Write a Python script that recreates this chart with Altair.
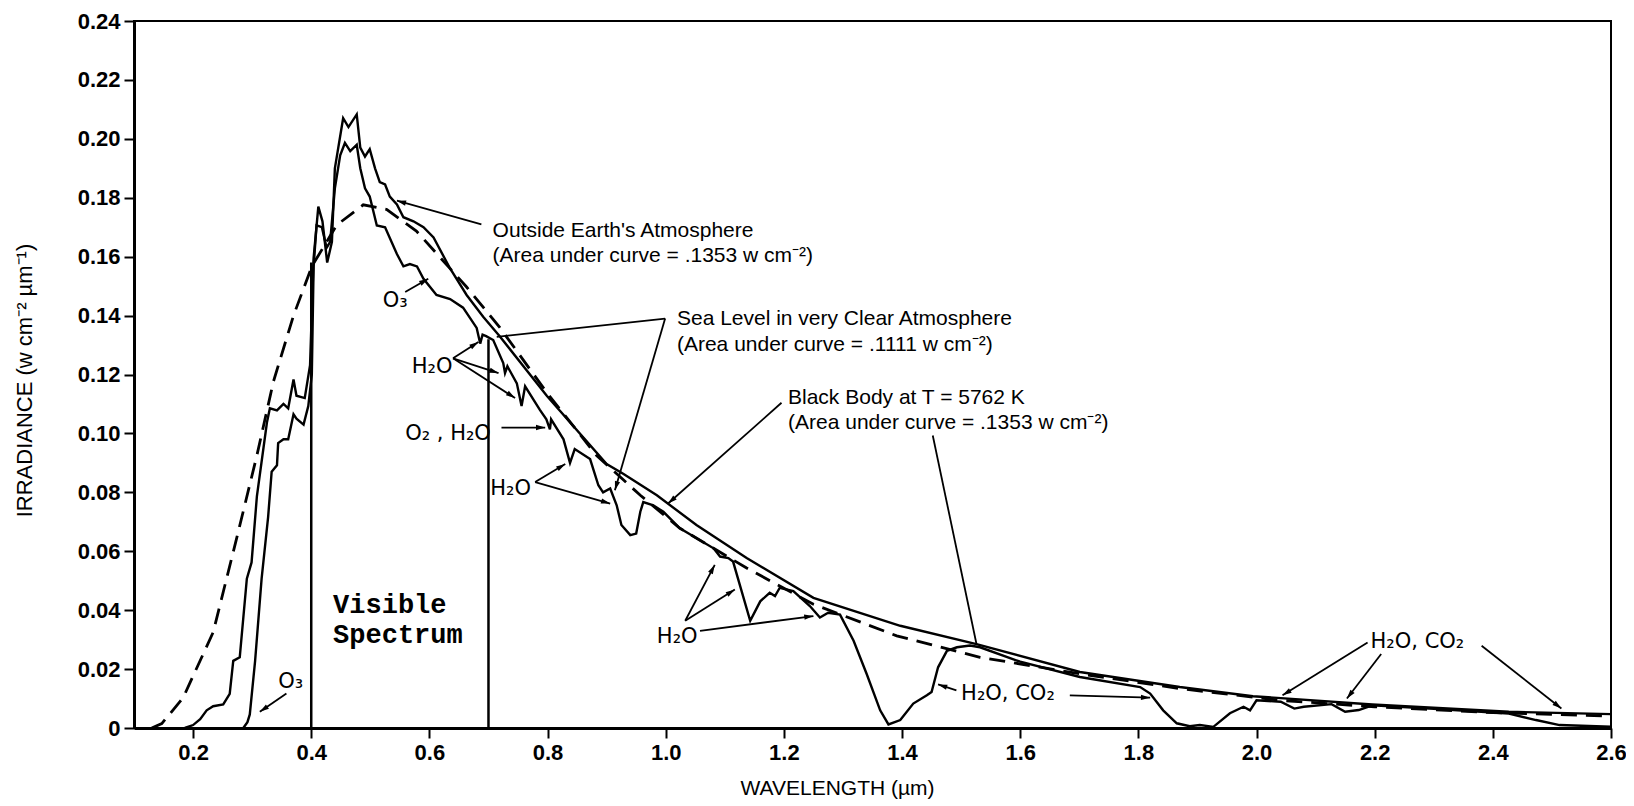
import math
import altair as alt
import pandas as pd

# ---------------- data ----------------
# Outside Earth's atmosphere (solid, upper)
OUT_X = [0.186, 0.200, 0.212, 0.223, 0.234, 0.251, 0.262, 0.268, 0.279, 0.291, 0.299, 0.308,
         0.325, 0.330, 0.342, 0.353, 0.361, 0.370, 0.375, 0.389, 0.398, 0.404, 0.412, 0.419,
         0.427, 0.435, 0.440, 0.454, 0.463, 0.477, 0.483, 0.491, 0.499, 0.508, 0.516, 0.525,
         0.533, 0.545, 0.556, 0.573, 0.590, 0.607, 0.635, 0.663, 0.691, 0.719, 0.799, 0.900,
         0.928, 0.985, 1.052, 1.137, 1.250, 1.397, 1.526, 1.701, 1.870, 1.994, 2.196, 2.427, 2.6]
OUT_Y = [0, 0.001, 0.003, 0.006, 0.0074, 0.008, 0.0116, 0.0228, 0.024, 0.0507, 0.0562, 0.0786,
         0.1037, 0.1085, 0.1078, 0.110, 0.1085, 0.1183, 0.1128, 0.112, 0.1232, 0.1595, 0.177, 0.172,
         0.158, 0.165, 0.190, 0.207, 0.204, 0.2083, 0.197, 0.194, 0.1965, 0.190, 0.1853, 0.1845,
         0.1804, 0.1777, 0.1734, 0.172, 0.170, 0.1665, 0.156, 0.147, 0.1396, 0.133, 0.1127, 0.0896,
         0.0863, 0.079, 0.0689, 0.0577, 0.0442, 0.0347, 0.0285, 0.019, 0.0139, 0.0108, 0.0080, 0.0055, 0.0047]

# Sea level in very clear atmosphere (solid, lower, with absorption bands)
SEA_X = [0.285, 0.292, 0.296, 0.305, 0.316, 0.327, 0.333, 0.342, 0.344, 0.353, 0.361, 0.370,
         0.375, 0.387, 0.395, 0.401, 0.404, 0.409, 0.418, 0.426, 0.432, 0.440, 0.449, 0.457,
         0.466, 0.477, 0.483, 0.491, 0.499, 0.511, 0.525, 0.536, 0.545, 0.556, 0.567, 0.579,
         0.590, 0.612, 0.635, 0.657, 0.680, 0.686, 0.690, 0.696, 0.708, 0.725, 0.728, 0.732,
         0.748, 0.756, 0.762, 0.787, 0.798, 0.804, 0.806, 0.827, 0.838, 0.846, 0.872, 0.886,
         0.894, 0.906, 0.917, 0.925, 0.940, 0.950, 0.957, 0.962, 0.979, 0.996, 1.024, 1.081,
         1.092, 1.106, 1.114, 1.143, 1.160, 1.176, 1.185, 1.193, 1.216, 1.244, 1.261, 1.275,
         1.295, 1.318, 1.340, 1.363, 1.377, 1.397, 1.419, 1.442, 1.450, 1.461, 1.476, 1.493,
         1.515, 1.532, 1.600, 1.701, 1.803, 1.820, 1.842, 1.865, 1.887, 1.904, 1.927, 1.955,
         1.978, 1.989, 2.000, 2.041, 2.064, 2.080, 2.127, 2.150, 2.173, 2.196, 2.300, 2.427,
         2.473, 2.513, 2.6]
SEA_Y = [0, 0.002, 0.0046, 0.0228, 0.0507, 0.0716, 0.087, 0.0892, 0.0967, 0.098, 0.098, 0.1065,
         0.105, 0.103, 0.1093, 0.120, 0.1567, 0.1706, 0.170, 0.163, 0.165, 0.1832, 0.1944, 0.1986,
         0.1958, 0.198, 0.190, 0.1832, 0.1804, 0.1706, 0.170, 0.165, 0.1609, 0.1567, 0.1575, 0.1567,
         0.1525, 0.147, 0.1456, 0.1427, 0.1358, 0.1305, 0.1335, 0.1330, 0.1317, 0.1239, 0.1205, 0.1228,
         0.117, 0.1093, 0.116, 0.108, 0.1048, 0.1014, 0.1048, 0.098, 0.090, 0.0947, 0.0913, 0.0824,
         0.080, 0.0813, 0.0756, 0.0689, 0.0655, 0.066, 0.0734, 0.0767, 0.0756, 0.0734, 0.0678, 0.061,
         0.0582, 0.0577, 0.0565, 0.0364, 0.043, 0.0459, 0.0448, 0.0476, 0.0465, 0.0414, 0.0375, 0.0391,
         0.0385, 0.0296, 0.0184, 0.006, 0.0012, 0.0027, 0.0083, 0.0111, 0.0122, 0.0206, 0.0262, 0.0274,
         0.028, 0.0274, 0.0225, 0.0173, 0.0139, 0.0117, 0.006, 0.0016, 0.0006, 0.001, 0.0004, 0.005,
         0.0072, 0.006, 0.0094, 0.0089, 0.0066, 0.0072, 0.0081, 0.0055, 0.0061, 0.0077, 0.0065, 0.0049,
         0.0027, 0.001, 0.0004]

# Black body at T = 5762 K (dashed)
BB_X = [0.130, 0.147, 0.183, 0.234, 0.274, 0.308, 0.336, 0.370, 0.401, 0.443, 0.488, 0.528,
        0.578, 0.663, 0.719, 0.799, 0.883, 0.957, 1.024, 1.137, 1.250, 1.391, 1.532, 1.701,
        1.870, 2.040, 2.2, 2.4, 2.6]
BB_Y = [0, 0.0015, 0.0102, 0.0325, 0.0646, 0.0925, 0.1176, 0.140, 0.1567, 0.1707, 0.1776, 0.176,
        0.1687, 0.1497, 0.136, 0.1138, 0.0925, 0.079, 0.0678, 0.0543, 0.042, 0.0313, 0.024, 0.0184,
        0.0134, 0.0094, 0.0072, 0.0052, 0.0040]

# Visible spectrum boundaries
VIS_X = [0.4, 0.7]
VIS_TOP = [0.158, 0.132]

# Axis ticks
X_TICKS = [0.2, 0.4, 0.6, 0.8, 1.0, 1.2, 1.4, 1.6, 1.8, 2.0, 2.2, 2.4, 2.6]
Y_TICKS = [0, 0.02, 0.04, 0.06, 0.08, 0.10, 0.12, 0.14, 0.16, 0.18, 0.20, 0.22, 0.24]

# Curve captions
MAIN_TEXT = ["Outside Earth's Atmosphere", "(Area under curve = .1353 w cm\u207b\u00b2)",
             "Sea Level in very Clear Atmosphere", "(Area under curve = .1111 w cm\u207b\u00b2)",
             "Black Body at T = 5762 K", "(Area under curve = .1353 w cm\u207b\u00b2)"]
MAIN_X = [0.707, 0.707, 1.019, 1.019, 1.207, 1.207]
MAIN_Y = [0.1687, 0.1603, 0.1387, 0.130, 0.1121, 0.1037]

# Absorber labels
CHEM_TEXT = ["O\u2083", "H\u2082O", "O\u2082 , H\u2082O", "H\u2082O", "H\u2082O",
             "H\u2082O, CO\u2082", "H\u2082O, CO\u2082", "O\u2083"]
CHEM_X = [0.521, 0.570, 0.559, 0.703, 0.985, 1.500, 2.193, 0.344]
CHEM_Y = [0.143, 0.1205, 0.0976, 0.0791, 0.0289, 0.0094, 0.0273, 0.0135]

VIS_TEXT = ["Visible", "Spectrum"]
VIS_TX = [0.437, 0.437]
VIS_TY = [0.039, 0.029]

# Leader lines (tail -> tip) and whether they carry an arrowhead
LEAD_X1 = [0.688, 0.999, 0.999, 1.196, 1.452, 0.559, 0.640, 0.640, 0.640, 0.722, 0.779,
           0.779, 1.033, 1.033, 1.058, 1.492, 1.684, 2.188, 2.211, 2.381, 0.358]
LEAD_Y1 = [0.171, 0.139, 0.139, 0.1104, 0.0993, 0.148, 0.1255, 0.1255, 0.1255, 0.102, 0.0835,
           0.0835, 0.0364, 0.0364, 0.033, 0.0128, 0.0111, 0.029, 0.0251, 0.0279, 0.0117]
LEAD_X2 = [0.545, 0.714, 0.914, 1.004, 1.526, 0.598, 0.683, 0.717, 0.745, 0.796, 0.830,
           0.906, 1.083, 1.117, 1.250, 1.461, 1.820, 2.044, 2.153, 2.516, 0.313]
LEAD_Y2 = [0.179, 0.1328, 0.0807, 0.0762, 0.0285, 0.1525, 0.131, 0.1205, 0.112, 0.102, 0.0896,
           0.0762, 0.0554, 0.047, 0.038, 0.0148, 0.0103, 0.0111, 0.010, 0.0066, 0.0055]
LEAD_HEAD = [1, 0, 1, 1, 0, 1, 1, 1, 1, 1, 1, 1, 1, 1, 1, 1, 1, 1, 1, 1, 1]

# ---------------- layout ----------------
W, H = 1477, 707
XMIN, XMAX, YMIN, YMAX = 0.1, 2.6, 0.0, 0.24
PXU = W / (XMAX - XMIN)
PYU = H / (YMAX - YMIN)
FONT = "Liberation Sans"


def curve_df(xs, ys, name):
    assert len(xs) == len(ys), name
    return pd.DataFrame({"x": xs, "y": ys, "i": list(range(len(xs))), "s": name})


out_df = curve_df(OUT_X, OUT_Y, "outside")
sea_df = curve_df(SEA_X, SEA_Y, "sea")
bb_df = curve_df(BB_X, BB_Y, "bb")
vis_df = pd.DataFrame({"x": VIS_X, "y": [0.0] * len(VIS_X), "y1": VIS_TOP})
main_df = pd.DataFrame({"t": MAIN_TEXT, "x": MAIN_X, "y": MAIN_Y})
chem_df = pd.DataFrame({"t": CHEM_TEXT, "x": CHEM_X, "y": CHEM_Y})
vt_df = pd.DataFrame({"t": VIS_TEXT, "x": VIS_TX, "y": VIS_TY})
lead_df = pd.DataFrame({"x": LEAD_X1, "y": LEAD_Y1, "x2": LEAD_X2, "y2": LEAD_Y2, "h": LEAD_HEAD})
angs = []
for a, b, c, d in zip(LEAD_X1, LEAD_Y1, LEAD_X2, LEAD_Y2):
    dx = (c - a) * PXU
    dy = -(d - b) * PYU
    angs.append(math.degrees(math.atan2(dx, -dy)) % 360)
lead_df["ang"] = angs
head_df = pd.DataFrame({"x": lead_df["x2"], "y": lead_df["y2"], "ang": lead_df["ang"],
                        "h": lead_df["h"]})
head_df = head_df[head_df["h"] == 1]

xs = alt.Scale(domain=[XMIN, XMAX], nice=False, zero=False)
ys = alt.Scale(domain=[YMIN, YMAX], nice=False, zero=False)

x_axis = alt.Axis(values=X_TICKS, format=".1f", labelFlush=False, labelOverlap=False,
                  title="WAVELENGTH (\u00b5m)", titleX=703, titleY=60, titleAngle=0,
                  titleAlign="center", titleBaseline="middle", titleFontSize=21)
y_axis = alt.Axis(values=Y_TICKS, labelOverlap=False,
                  labelExpr="datum.value == 0 ? '0' : format(datum.value, '.2f')",
                  title="IRRADIANCE (w cm\u207b\u00b2 \u00b5m\u207b\u00b9)", titleX=-110, titleY=359,
                  titleAngle=270, titleAlign="center", titleBaseline="middle", titleFontSize=22)

X = alt.X("x:Q", scale=xs, axis=x_axis)
Y = alt.Y("y:Q", scale=ys, axis=y_axis)

outside = alt.Chart(out_df).mark_line(color="black", strokeWidth=2.4).encode(x=X, y=Y, order="i:Q")
sea = alt.Chart(sea_df).mark_line(color="black", strokeWidth=2.4).encode(x=X, y=Y, order="i:Q")
bb = alt.Chart(bb_df).mark_line(color="black", strokeWidth=2.8, strokeDash=[16, 9]).encode(
    x=X, y=Y, order="i:Q")
vis = alt.Chart(vis_df).mark_rule(color="black", strokeWidth=2.5).encode(x=X, y=Y, y2="y1:Q")
leads = alt.Chart(lead_df).mark_rule(color="black", strokeWidth=1.8).encode(
    x=X, y=Y, x2="x2:Q", y2="y2:Q")
ARROW = "M0,0L0.75,2.6L-0.75,2.6Z"
heads = alt.Chart(head_df).mark_point(shape=ARROW, filled=True, size=50, color="black",
                                      opacity=1, strokeWidth=0).encode(
    x=X, y=Y, angle=alt.Angle("ang:Q", scale=None))
main_txt = alt.Chart(main_df).mark_text(align="left", baseline="middle", font=FONT,
                                        fontSize=21, color="black").encode(x=X, y=Y, text="t:N")
chem_txt = alt.Chart(chem_df).mark_text(align="left", baseline="alphabetic", font="DejaVu Sans",
                                        fontSize=21, color="black").encode(x=X, y=Y, text="t:N")
vis_txt = alt.Chart(vt_df).mark_text(align="left", baseline="alphabetic", font="Liberation Mono",
                                     fontSize=27, fontWeight="bold", color="black").encode(
    x=X, y=Y, text="t:N")

chart = alt.layer(outside, sea, bb, vis, leads, heads, main_txt, chem_txt, vis_txt).properties(
    width=W, height=H,
    autosize=alt.AutoSizeParams(type="none"),
    padding={"left": 126, "top": 13, "right": 15, "bottom": 74},
    background="white",
).configure_view(stroke="black", strokeWidth=2).configure_axis(
    domainColor="black", domainWidth=3, tickColor="black", tickWidth=2, tickSize=10,
    labelColor="black", labelFont=FONT, labelFontSize=22, labelFontWeight="bold", labelPadding=4,
    titleColor="black", titleFont=FONT, titleFontWeight="normal", grid=False)

chart.save("out.html", embed_options={"renderer": "svg", "actions": False})
